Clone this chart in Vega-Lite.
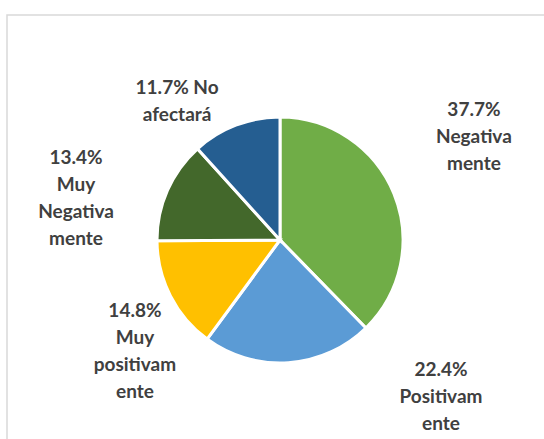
{
  "$schema": "https://vega.github.io/schema/vega-lite/v6.json",
  "width": 560,
  "height": 450,
  "autosize": "none",
  "padding": {"left": 7, "top": 15, "right": 0, "bottom": 0},
  "background": "white",
  "view": {"stroke": "#d9d9d9", "strokeWidth": 1.5},
  "data": {
    "values": [
      {"orden": 1, "cat": "Negativamente", "pct": 37.7, "label": ["37.7%", "Negativa", "mente"]},
      {"orden": 2, "cat": "Positivamente", "pct": 22.4, "label": ["22.4%", "Positivam", "ente"]},
      {"orden": 3, "cat": "Muy positivamente", "pct": 14.8, "label": ["14.8%", "Muy", "positivam", "ente"]},
      {"orden": 4, "cat": "Muy Negativamente", "pct": 13.4, "label": ["13.4%", "Muy", "Negativa", "mente"]},
      {"orden": 5, "cat": "No afectará", "pct": 11.7, "label": ["11.7% No", "afectará"]}
    ]
  },
  "encoding": {
    "theta": {"field": "pct", "type": "quantitative", "stack": true},
    "order": {"field": "orden", "type": "quantitative"}
  },
  "layer": [
    {
      "mark": {"type": "arc", "x": {"expr": "width/2 - 7"}, "y": {"expr": "height/2"}, "outerRadius": 123, "stroke": "white", "strokeWidth": 3},
      "encoding": {
        "color": {
          "field": "cat",
          "type": "nominal",
          "scale": {
            "domain": ["Negativamente", "Positivamente", "Muy positivamente", "Muy Negativamente", "No afectará"],
            "range": ["#70AD47", "#5B9BD5", "#FFC000", "#43682B", "#255E91"]
          },
          "legend": null
        }
      }
    },
    {
      "mark": {"type": "text", "x": {"expr": "width/2 - 7"}, "y": {"expr": "height/2"}, "radius": 150, "dx": 55, "dy": -73.5, "font": "Lato", "fontWeight": "bold", "fontSize": 19, "lineHeight": 27, "color": "#404040", "align": "center", "baseline": "middle"},
      "encoding": {"text": {"condition": {"test": "datum.cat === 'Negativamente'", "field": "label"}, "value": ""}}
    },
    {
      "mark": {"type": "text", "x": {"expr": "width/2 - 7"}, "y": {"expr": "height/2"}, "radius": 150, "dx": 150.6, "dy": -20, "font": "Lato", "fontWeight": "bold", "fontSize": 19, "lineHeight": 27, "color": "#404040", "align": "center", "baseline": "middle"},
      "encoding": {"text": {"condition": {"test": "datum.cat === 'Positivamente'", "field": "label"}, "value": ""}}
    },
    {
      "mark": {"type": "text", "x": {"expr": "width/2 - 7"}, "y": {"expr": "height/2"}, "radius": 150, "dx": -11.4, "dy": 2.9, "font": "Lato", "fontWeight": "bold", "fontSize": 19, "lineHeight": 27, "color": "#404040", "align": "center", "baseline": "middle"},
      "encoding": {"text": {"condition": {"test": "datum.cat === 'Muy positivamente'", "field": "label"}, "value": ""}}
    },
    {
      "mark": {"type": "text", "x": {"expr": "width/2 - 7"}, "y": {"expr": "height/2"}, "radius": 150, "dx": -66.7, "dy": -21.5, "font": "Lato", "fontWeight": "bold", "fontSize": 19, "lineHeight": 27, "color": "#404040", "align": "center", "baseline": "middle"},
      "encoding": {"text": {"condition": {"test": "datum.cat === 'Muy Negativamente'", "field": "label"}, "value": ""}}
    },
    {
      "mark": {"type": "text", "x": {"expr": "width/2 - 7"}, "y": {"expr": "height/2"}, "radius": 150, "dx": -49, "dy": -12, "font": "Lato", "fontWeight": "bold", "fontSize": 19, "lineHeight": 27, "color": "#404040", "align": "center", "baseline": "middle"},
      "encoding": {"text": {"condition": {"test": "datum.cat === 'No afectará'", "field": "label"}, "value": ""}}
    }
  ]
}
